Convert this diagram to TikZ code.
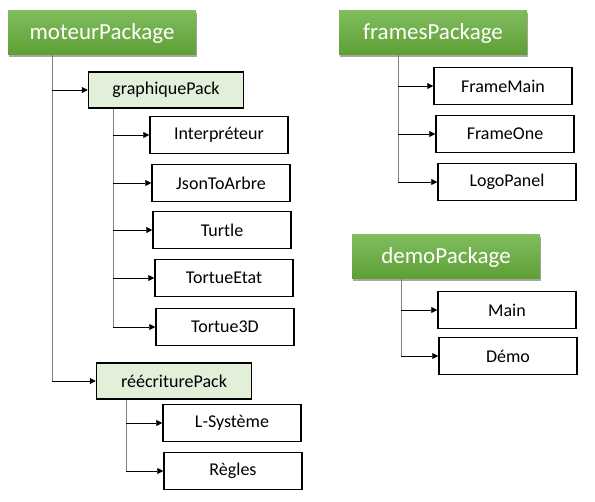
\documentclass[tikz,border=0pt]{standalone}
\usepackage{fontspec}
\setmainfont{Carlito}
\usetikzlibrary{arrows.meta,shadows}
\definecolor{pkgtop}{HTML}{80BC5E}
\definecolor{pkgbot}{HTML}{5E9F34}
\definecolor{subfill}{HTML}{E2EFD9}
\definecolor{trunkgrey}{HTML}{7F7F7F}

\begin{document}
\begin{tikzpicture}
[x=1pt, y=-1pt,
  pack/.style = {minimum width=188pt, minimum height=44pt, text=white,
    top color=pkgtop, bottom color=pkgbot, font=\fontsize{23}{25}\selectfont,
    drop shadow={shadow xshift=1pt, shadow yshift=-2pt, opacity=0.35, fill=black}},
  subpack/.style = {draw, line width=1.5pt, fill=subfill, minimum width=155pt,
    minimum height=36pt, font=\fontsize{18}{20}\selectfont},
  leaf/.style = {draw, line width=1.5pt, minimum width=138pt,
    minimum height=37pt, font=\fontsize{18}{20}\selectfont},
  trunk/.style = {draw=trunkgrey, line width=1pt},
  arrow/.style = {draw, line width=0.8pt, -{Triangle[length=6pt,width=6pt]}}]
  \useasboundingbox (0,0) rectangle (595,502);

  % left tree
  \node[pack] (moteur) at (102,33) {moteurPackage};
  \node[subpack] (graph) at (166,90) {graphiquePack};
  \node[leaf] (interp) at (219,135) {Interpréteur};
  \node[leaf] (json) at (221,183) {JsonToArbre};
  \node[leaf] (turtle) at (222,230) {Turtle};
  \node[leaf] (etat) at (224,278) {TortueEtat};
  \node[leaf] (t3d) at (225,327) {Tortue3D};
  \node[subpack] (reec) at (174,381) {réécriturePack};
  \node[leaf] (lsys) at (232,423) {L-Système};
  \node[leaf] (regles) at (233,471) {Règles};

  % right trees
  \node[pack] (frames) at (433,33) {framesPackage};
  \node[leaf] (fmain) at (503,86) {FrameMain};
  \node[leaf] (fone) at (505,134) {FrameOne};
  \node[leaf] (logo) at (507,182) {LogoPanel};
  \node[pack] (demo) at (446,257) {demoPackage};
  \node[leaf] (main) at (507,310) {Main};
  \node[leaf] (dem) at (508,356) {Démo};

  % trunks
  \coordinate (mt) at (moteur.south -| 52,0);
  \coordinate (gt) at (graph.south -| 113,0);
  \coordinate (rt) at (reec.south -| 126,0);
  \coordinate (ft) at (frames.south -| 398,0);
  \coordinate (dt) at (demo.south -| 401,0);
  \draw[trunk] (mt) -- (mt |- reec.west);
  \draw[trunk] (gt) -- (gt |- t3d.west);
  \draw[trunk] (rt) -- (rt |- regles.west);
  \draw[trunk] (ft) -- (ft |- logo.west);
  \draw[trunk] (dt) -- (dt |- dem.west);

  % arrows
  \foreach \n in {graph,reec}
    \draw[arrow] (mt |- \n.west) -- (\n.west);
  \foreach \n in {interp,json,turtle,etat,t3d}
    \draw[arrow] (gt |- \n.west) -- (\n.west);
  \foreach \n in {lsys,regles}
    \draw[arrow] (rt |- \n.west) -- (\n.west);
  \foreach \n in {fmain,fone,logo}
    \draw[arrow] (ft |- \n.west) -- (\n.west);
  \foreach \n in {main,dem}
    \draw[arrow] (dt |- \n.west) -- (\n.west);
\end{tikzpicture}
\end{document}
